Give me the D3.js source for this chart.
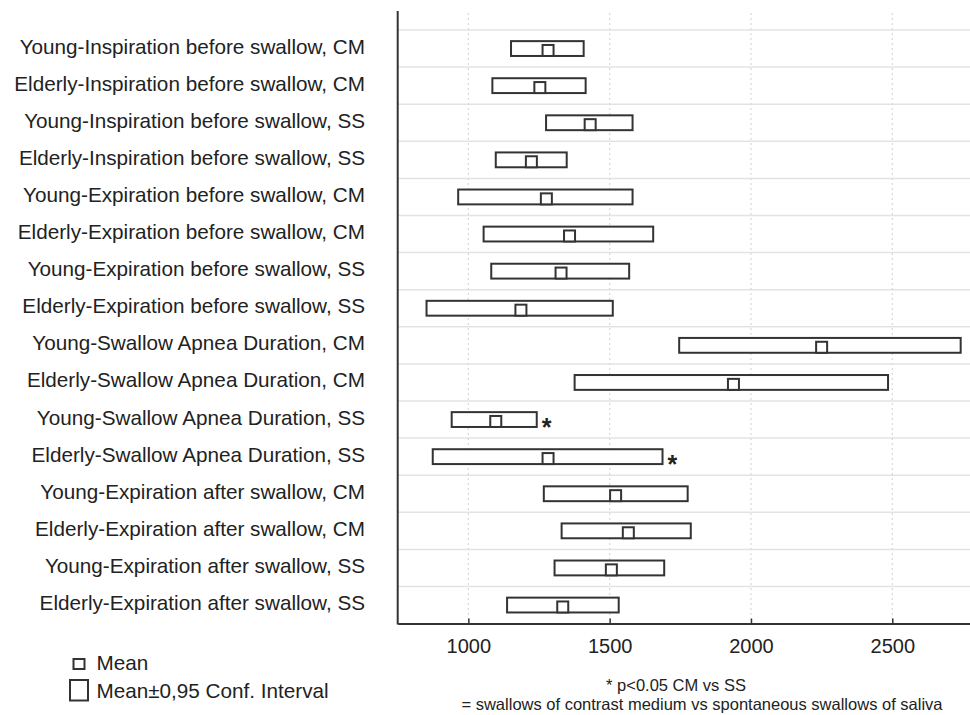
<!DOCTYPE html>
<html>
<head>
<meta charset="utf-8">
<script src="https://cdn.jsdelivr.net/npm/d3@7"></script>
<style>
  body { margin: 0; background: #fff; }
  svg text { font-family: "Liberation Sans", Arial, sans-serif; fill: #222; }
</style>
</head>
<body>
<svg id="mainBoard" width="970" height="715"></svg>
<script>
// categories, top to bottom
const labels = [
    "Young-Inspiration before swallow, CM",
    "Elderly-Inspiration before swallow, CM",
    "Young-Inspiration before swallow, SS",
    "Elderly-Inspiration before swallow, SS",
    "Young-Expiration before swallow, CM",
    "Elderly-Expiration before swallow, CM",
    "Young-Expiration before swallow, SS",
    "Elderly-Expiration before swallow, SS",
    "Young-Swallow Apnea Duration, CM",
    "Elderly-Swallow Apnea Duration, CM",
    "Young-Swallow Apnea Duration, SS",
    "Elderly-Swallow Apnea Duration, SS",
    "Young-Expiration after swallow, CM",
    "Elderly-Expiration after swallow, CM",
    "Young-Expiration after swallow, SS",
    "Elderly-Expiration after swallow, SS"
];
// mean and 0.95 confidence interval (ms)
const means = [1282, 1253, 1431, 1223, 1276, 1358, 1328, 1186, 2250, 1938, 1097, 1282, 1521, 1566, 1506, 1334];
const lower = [1151, 1085, 1275, 1097, 964, 1054, 1081, 852, 1746, 1376, 941, 874, 1267, 1330, 1305, 1137];
const upper = [1408, 1415, 1581, 1348, 1581, 1654, 1569, 1511, 2742, 2485, 1242, 1687, 1776, 1787, 1693, 1532];
// p<0.05 CM vs SS
const signif = [false, false, false, false, false, false, false, false, false, false, true, true, false, false, false, false];
const xTicks = [1000, 1500, 2000, 2500];

const data = labels.map((l, i) => ({label: l, mean: means[i], lo: lower[i], hi: upper[i], sig: signif[i]}));

const svg = d3.select("svg#mainBoard");
const plotLeft = 397.7, plotRight = 970, plotTop = 11, rowsTop = 30, plotBottom = 623.6;
const stroke = "#333";

const xScale = d3.scaleLinear().domain([750, 2775]).range([plotLeft, plotRight]);
const yScale = d3.scaleBand().domain(labels).range([rowsTop, plotBottom]).padding(0);
const bw = yScale.bandwidth();

// 网格线
svg.append("g").selectAll("line.hgrid")
    .data(labels).join("line")
    .attr("class", "hgrid")
    .attr("x1", plotLeft).attr("x2", plotRight)
    .attr("y1", d => yScale(d)).attr("y2", d => yScale(d))
    .attr("stroke", "#e3e3e3").attr("stroke-width", 1.5);

svg.append("g").selectAll("line.vgrid")
    .data(xTicks).join("line")
    .attr("class", "vgrid")
    .attr("x1", d => xScale(d)).attr("x2", d => xScale(d))
    .attr("y1", plotTop + 2).attr("y2", plotBottom)
    .attr("stroke", "#d8d8d8").attr("stroke-width", 1.2)
    .attr("stroke-dasharray", "2,3");

// 坐标轴
const xAxis = d3.axisBottom(xScale).tickValues(xTicks).tickFormat(d3.format("d"))
    .tickSizeInner(-5).tickSizeOuter(0).tickPadding(15);
const xAxisGroup = svg.append("g").attr("transform", `translate(0, ${plotBottom})`).call(xAxis);
xAxisGroup.select(".domain").attr("stroke", stroke).attr("stroke-width", 2);
xAxisGroup.selectAll(".tick line").attr("stroke", stroke).attr("stroke-width", 1.5);
xAxisGroup.selectAll(".tick text").attr("font-size", "20px").attr("fill", "#222")
    .attr("font-family", "Liberation Sans, Arial, sans-serif");

svg.append("line")
    .attr("x1", plotLeft).attr("x2", plotLeft)
    .attr("y1", plotTop).attr("y2", plotBottom + 1)
    .attr("stroke", stroke).attr("stroke-width", 2);

// 类别标签
svg.append("g").selectAll("text.cat")
    .data(data).join("text")
    .attr("class", "cat")
    .attr("x", 365)
    .attr("y", d => yScale(d.label) + bw / 2 + 5)
    .attr("text-anchor", "end")
    .attr("font-size", "20.7px")
    .text(d => d.label);

// 置信区间箱体
const boxH = bw * 0.4;
svg.append("g").selectAll("rect.ci")
    .data(data).join("rect")
    .attr("class", "ci")
    .attr("x", d => xScale(d.lo))
    .attr("y", d => yScale(d.label) + bw / 2 - boxH / 2)
    .attr("width", d => xScale(d.hi) - xScale(d.lo))
    .attr("height", boxH)
    .attr("fill", "#fff").attr("stroke", stroke).attr("stroke-width", 2);

// 均值
const ms = 11;
svg.append("g").selectAll("rect.mean")
    .data(data).join("rect")
    .attr("class", "mean")
    .attr("x", d => xScale(d.mean) - ms / 2)
    .attr("y", d => yScale(d.label) + bw / 2 + boxH / 2 - ms)
    .attr("width", ms).attr("height", ms)
    .attr("fill", "#fff").attr("stroke", stroke).attr("stroke-width", 2);

// 显著性标记
svg.append("g").selectAll("text.sig")
    .data(data.filter(d => d.sig)).join("text")
    .attr("class", "sig")
    .attr("x", d => xScale(d.hi) + 5)
    .attr("y", d => yScale(d.label) + bw / 2 + 16)
    .attr("font-size", "25px")
    .attr("font-weight", "bold")
    .attr("fill", "#333")
    .text("*");

// 图例
const legend = svg.append("g");
legend.append("rect").attr("x", 73.5).attr("y", 659).attr("width", 11).attr("height", 10)
    .attr("fill", "#fff").attr("stroke", stroke).attr("stroke-width", 2);
legend.append("text").attr("x", 96.5).attr("y", 669.5).attr("font-size", "20.7px").text("Mean");
legend.append("rect").attr("x", 70).attr("y", 680).attr("width", 18).attr("height", 20.5)
    .attr("fill", "#fff").attr("stroke", stroke).attr("stroke-width", 2);
legend.append("text").attr("x", 96.5).attr("y", 697.5).attr("font-size", "20.7px").text("Mean±0,95 Conf. Interval");

// 注释
svg.append("text").attr("x", 676).attr("y", 691).attr("text-anchor", "middle")
    .attr("font-size", "16.5px").text("* p<0.05 CM vs SS");
svg.append("text").attr("x", 702).attr("y", 710).attr("text-anchor", "middle")
    .attr("font-size", "16.5px").text("= swallows of contrast medium vs spontaneous swallows of saliva");
</script>
</body>
</html>
